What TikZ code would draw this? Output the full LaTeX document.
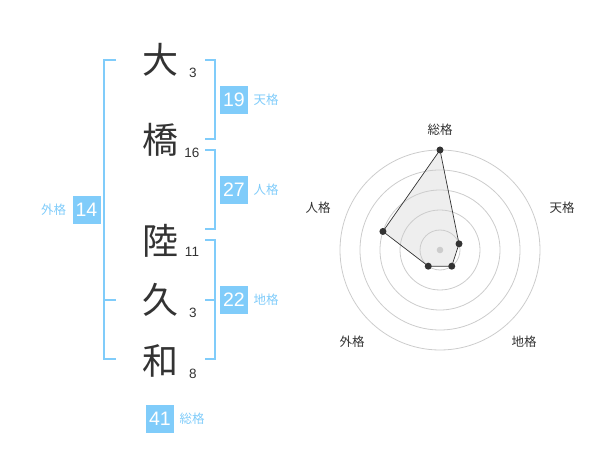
\documentclass[tikz,border=0pt]{standalone}
\usepackage{fontspec}
\setmainfont{Liberation Sans}
\newfontfamily\cjk{Noto Sans CJK JP}
\definecolor{kblue}{RGB}{128,204,250}
\definecolor{kdark}{RGB}{51,51,51}
\definecolor{kgrid}{RGB}{204,204,204}
\definecolor{kfill}{RGB}{238,238,238}
\begin{document}
\begin{tikzpicture}[x=1pt,y=-1pt,
  bigchar/.style={inner sep=0pt,text=kdark,font=\cjk\fontsize{36}{36}\selectfont},
  strokes/.style={inner sep=0pt,text=kdark,font=\fontsize{13.5}{13.5}\selectfont},
  numbox/.style={fill=kblue,text=white,inner sep=0pt,minimum width=28pt,minimum height=28pt,font=\fontsize{19.5}{19.5}\selectfont},
  kaku/.style={inner sep=0pt,text=kblue,font=\cjk\fontsize{12.5}{12.5}\selectfont},
  bracket/.style={draw=kblue,line width=2pt,miter limit=10},
  rlabel/.style={inner sep=0pt,text=kdark,font=\cjk\fontsize{12.5}{12.5}\selectfont},
  ring/.style={draw=kgrid,line width=0.8pt},
  dot/.style={circle,fill=kdark,inner sep=0pt,minimum size=7pt}]
\useasboundingbox (0,0) rectangle (600,470);

% characters
\node[bigchar] (c1) at (160,60) {大};
\node[bigchar] (c2) at (160,140) {橋};
\node[bigchar] (c3) at (160,241) {陸};
\node[bigchar] (c4) at (160,300) {久};
\node[bigchar] (c5) at (160,361) {和};
\node[strokes] (s1) at (193,73) {3};
\node[strokes] (s2) at (192,153) {16};
\node[strokes] (s3) at (192,252) {11};
\node[strokes] (s4) at (193,313) {3};
\node[strokes] (s5) at (193,374) {8};

% brackets
\coordinate (lt) at (116,60);
\coordinate (lm) at (116,300);
\coordinate (lb) at (116,359);
\draw[bracket] (lt) -- (104,60) -- (104,359) -- (lb);
\draw[bracket] (104,300) -- (lm);
\draw[bracket] (205,60) -- (215,60) -- (215,139) -- (205,139);
\draw[bracket] (205,150) -- (215,150) -- (215,229) -- (205,229);
\draw[bracket] (205,240) -- (215,240) -- (215,359) -- (205,359);
\draw[bracket] (205,300) -- (215,300);

% boxes and labels
\node[numbox] (b1) at (234,100) {19};
\node[kaku] (k1) at (266,100) {天格};
\node[numbox] (b2) at (234,190) {27};
\node[kaku] (k2) at (266,190) {人格};
\node[numbox] (b3) at (234,300) {22};
\node[kaku] (k3) at (266,300) {地格};
\node[numbox] (b4) at (86.5,210) {14};
\node[kaku] (k4) at (53.5,210) {外格};
\node[numbox] (b5) at (160,419) {41};
\node[kaku] (k5) at (192,419) {総格};

% radar
\coordinate (ctr) at (440,250);
\coordinate (p1) at (440,150);
\coordinate (p2) at (459.02,243.82);
\coordinate (p3) at (451.76,266.18);
\coordinate (p4) at (428.24,266.18);
\coordinate (p5) at (382.94,231.46);
\fill[kfill] (p1) -- (p2) -- (p3) -- (p4) -- (p5) -- cycle;
\foreach \r in {20,40,60,80,100} \draw[ring] (ctr) circle (\r);
\draw[draw=kdark,line width=0.7pt] (p1) -- (p2) -- (p3) -- (p4) -- (p5) -- cycle;
\fill[kgrid] (ctr) circle (3.3);
\foreach \p in {p1,p2,p3,p4,p5} \node[dot] at (\p) {};
\node[rlabel] (r1) at (440,130) {総格};
\node[rlabel] (r2) at (562,208) {天格};
\node[rlabel] (r3) at (524,342) {地格};
\node[rlabel] (r4) at (352,342) {外格};
\node[rlabel] (r5) at (318,208) {人格};
\end{tikzpicture}
\end{document}
